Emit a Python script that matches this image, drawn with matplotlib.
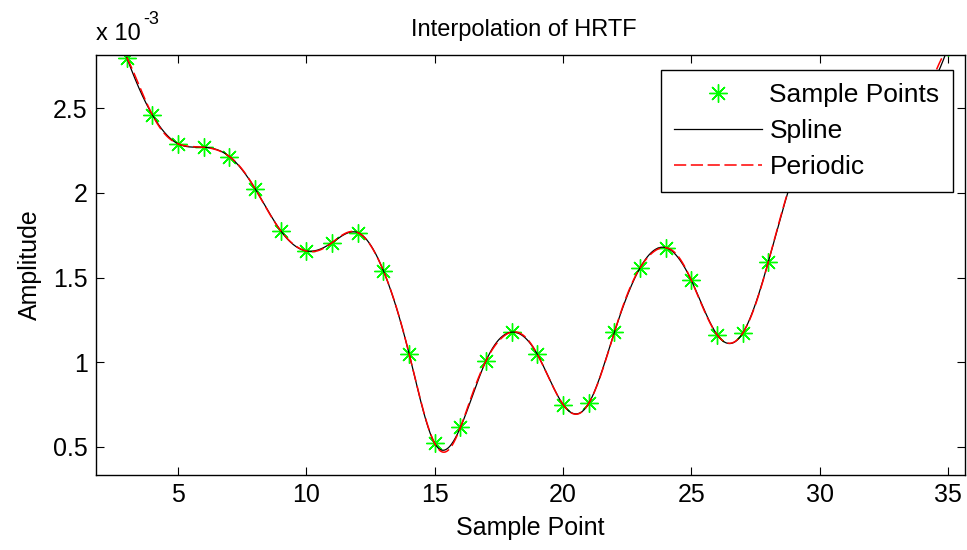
import numpy as np
import matplotlib
matplotlib.use('Agg')
import matplotlib.pyplot as plt

plt.rcParams['font.family'] = ['Liberation Sans', 'DejaVu Sans']

# sample points (amplitude in units of 1e-3); points past x=28 sit behind the legend / above the axes
sample_x = np.arange(3, 36)
sample_y = [2.80, 2.46, 2.29, 2.27, 2.215, 2.025, 1.776, 1.657, 1.707, 1.766,
            1.54, 1.05, 0.52, 0.615, 1.01, 1.178, 1.046, 0.75, 0.757, 1.178,
            1.558, 1.677, 1.483, 1.163, 1.172, 1.594, 2.12, 2.45, 2.55, 2.5,
            2.45, 2.55, 2.86]
legend_labels = ['Sample Points', 'Spline', 'Periodic']
x_ticks = [5, 10, 15, 20, 25, 30, 35]
y_ticks = [0.5, 1, 1.5, 2, 2.5]
y_tick_labels = ['0.5', '1', '1.5', '2', '2.5']


def notaknot_spline(x, y, xq):
    # cubic spline with not-a-knot ends, like matlab's spline()
    x = np.asarray(x, float)
    y = np.asarray(y, float)
    n = len(x)
    h = np.diff(x)
    A = np.zeros((n, n))
    b = np.zeros(n)
    for i in range(1, n - 1):
        A[i, i - 1] = h[i - 1]
        A[i, i] = 2 * (h[i - 1] + h[i])
        A[i, i + 1] = h[i]
        b[i] = 6 * ((y[i + 1] - y[i]) / h[i] - (y[i] - y[i - 1]) / h[i - 1])
    A[0, 0], A[0, 1], A[0, 2] = h[1], -(h[0] + h[1]), h[0]
    A[-1, -3], A[-1, -2], A[-1, -1] = h[-1], -(h[-2] + h[-1]), h[-2]
    M = np.linalg.solve(A, b)
    idx = np.clip(np.searchsorted(x, xq) - 1, 0, n - 2)
    x0, x1 = x[idx], x[idx + 1]
    hh = x1 - x0
    t0 = x1 - xq
    t1 = xq - x0
    return (M[idx] * t0**3 / (6 * hh) + M[idx + 1] * t1**3 / (6 * hh)
            + (y[idx] / hh - M[idx] * hh / 6) * t0
            + (y[idx + 1] / hh - M[idx + 1] * hh / 6) * t1)


def periodic_interp(x, y, xq):
    # trigonometric (fft) interpolation, period = number of samples
    y = np.asarray(y, float)
    n = len(y)
    c = np.fft.fft(y) / n
    k = np.fft.fftfreq(n, 1.0 / n)
    t = (xq - x[0]) / n
    return np.real(np.exp(2j * np.pi * np.outer(t, k)) @ c)


xf = np.linspace(3, 35, 1200)
spline_y = notaknot_spline(sample_x, sample_y, xf)
periodic_y = periodic_interp(sample_x, sample_y, xf)

fig = plt.figure(figsize=(9.67, 5.5), dpi=100)
ax = fig.add_axes([0.0993, 0.1364, 0.8986, 0.7636])

ax.plot(sample_x, sample_y, linestyle='none', marker=(8, 2, 0), markersize=13,
        markeredgewidth=1.0, color=(0, 1, 0), label=legend_labels[0])
ax.plot(xf, spline_y, color='black', lw=0.9, label=legend_labels[1])
ax.plot(xf, periodic_y, color='red', lw=1.1, dashes=(8, 3), label=legend_labels[2])

ax.set_xlim(1.8, 35.66)
ax.set_ylim(0.334, 2.815)
ax.set_xticks(x_ticks)
ax.set_yticks(y_ticks)
ax.set_yticklabels(y_tick_labels)
ax.tick_params(direction='in', top=True, right=True, length=6, width=0.8,
               labelsize=18, pad=6)
for s in ax.spines.values():
    s.set_linewidth(1.0)

ax.set_title('Interpolation of HRTF', fontsize=17, pad=14, x=0.492)
ax.set_xlabel('Sample Point', fontsize=18, labelpad=6)
ax.set_ylabel('Amplitude', fontsize=18, labelpad=8)

ax.text(0.0, 1.025, 'x 10', transform=ax.transAxes, fontsize=17, va='bottom', ha='left')
ax.text(0.054, 1.065, '-3', transform=ax.transAxes, fontsize=13, va='bottom', ha='left')

leg = ax.legend(loc='upper right', bbox_to_anchor=(0.986, 0.964), fontsize=19,
                handlelength=3.3, handletextpad=0.3, labelspacing=0.45,
                borderpad=0.5, borderaxespad=0, fancybox=False, framealpha=1)
leg.get_frame().set_edgecolor('black')
leg.get_frame().set_linewidth(1.0)

fig.savefig('out.png', dpi=100)
